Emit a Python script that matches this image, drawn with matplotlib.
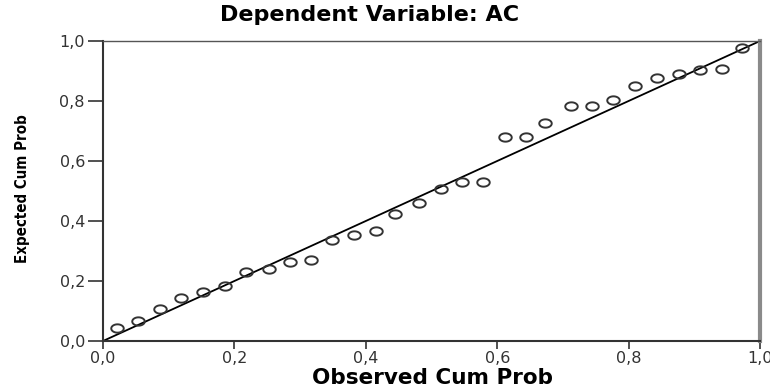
import numpy as np
import matplotlib
matplotlib.use("Agg")
import matplotlib.pyplot as plt
from matplotlib.path import Path
from matplotlib.ticker import FuncFormatter

observed = [0.021, 0.054, 0.086, 0.119, 0.152, 0.186, 0.218, 0.252, 0.284, 0.316,
            0.348, 0.382, 0.415, 0.444, 0.481, 0.514, 0.547, 0.579, 0.612, 0.644,
            0.673, 0.712, 0.744, 0.776, 0.810, 0.843, 0.876, 0.909, 0.942, 0.972]
expected = [0.044, 0.067, 0.108, 0.143, 0.163, 0.183, 0.229, 0.240, 0.265, 0.269,
            0.336, 0.352, 0.366, 0.423, 0.460, 0.507, 0.531, 0.531, 0.680, 0.680,
            0.727, 0.782, 0.782, 0.802, 0.851, 0.877, 0.890, 0.905, 0.907, 0.977]
ref_line = [0.0, 1.0]
ticks = [0.0, 0.2, 0.4, 0.6, 0.8, 1.0]

title = "Dependent Variable: AC"
xlabel = "Observed Cum Prob"
ylabel = "Expected Cum Prob"

fig = plt.figure(figsize=(7.7, 3.92), dpi=100)
ax = fig.add_axes([103/770, 51/392, 657/770, 300/392])

t = np.linspace(0, 2*np.pi, 41)
ellipse = Path(np.column_stack([1.5*np.cos(t), np.sin(t)]), closed=True)

ax.plot(ref_line, ref_line, color="black", lw=1.3, zorder=2)
ax.plot(observed, expected, linestyle="none", marker=ellipse, markersize=9,
        markerfacecolor="none", markeredgecolor="#333333", markeredgewidth=1.4, zorder=3)

ax.set_xlim(0, 1)
ax.set_ylim(0, 1)
ax.set_xticks(ticks)
ax.set_yticks(ticks)
fmt = FuncFormatter(lambda v, p: f"{v:.1f}".replace(".", ","))
ax.xaxis.set_major_formatter(fmt)
ax.yaxis.set_major_formatter(fmt)
ax.tick_params(axis="both", direction="out", width=1.2, color="#333333",
               labelsize=11.5, labelcolor="#333333")
ax.tick_params(axis="x", length=6, pad=1)
ax.tick_params(axis="y", length=11, pad=2)

for side in ["left", "bottom"]:
    ax.spines[side].set_color("#333333")
    ax.spines[side].set_linewidth(1.5)
ax.spines["top"].set_color("#555555")
ax.spines["top"].set_linewidth(1.0)
ax.spines["right"].set_color("#8a8a8a")
ax.spines["right"].set_linewidth(3.0)

fig.text(370/770, 1 - 15/392, title, ha="center", va="center",
         fontsize=16, fontweight="bold", family=["DejaVu Sans"])
fig.text(432/770, 1 - 378/392, xlabel, ha="center", va="center",
         fontsize=15.5, fontweight="bold", family=["DejaVu Sans"])
fig.text(23/770, 1 - 189/392, ylabel, ha="center", va="center", rotation=90,
         fontsize=10.8, fontweight="bold", fontstretch="condensed",
         family=["DejaVu Sans"])

fig.savefig("out.png", dpi=100)
